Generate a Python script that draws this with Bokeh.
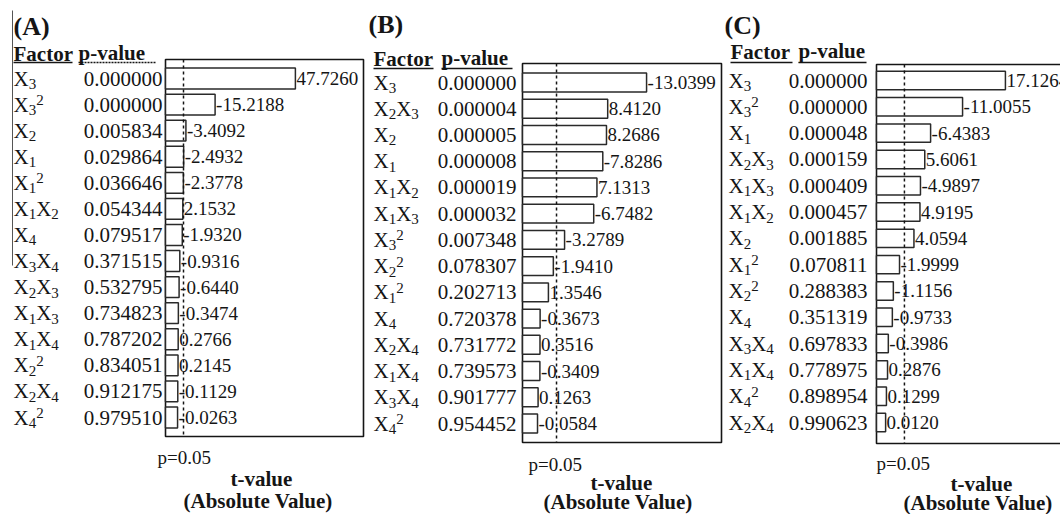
from bokeh.plotting import figure
from bokeh.models import ColumnDataSource, Range1d, Label, Arrow
from bokeh.core.properties import value
from bokeh.embed import file_html
from bokeh.resources import INLINE

# ---------------- data ----------------
panel_titles = ["(A)", "(B)", "(C)"]

factors_a = ["X₃", "X₃²", "X₂", "X₁", "X₁²", "X₁X₂", "X₄", "X₃X₄", "X₂X₃", "X₁X₃",
             "X₁X₄", "X₂²", "X₂X₄", "X₄²"]
pvalues_a = ["0.000000", "0.000000", "0.005834", "0.029864", "0.036646", "0.054344",
             "0.079517", "0.371515", "0.532795", "0.734823", "0.787202", "0.834051",
             "0.912175", "0.979510"]
tvalues_a = [47.7260, -15.2188, -3.4092, -2.4932, -2.3778, 2.1532, -1.9320, -0.9316,
             -0.6440, -0.3474, 0.2766, 0.2145, -0.1129, -0.0263]

factors_b = ["X₃", "X₂X₃", "X₂", "X₁", "X₁X₂", "X₁X₃", "X₃²", "X₂²", "X₁²", "X₄",
             "X₂X₄", "X₁X₄", "X₃X₄", "X₄²"]
pvalues_b = ["0.000000", "0.000004", "0.000005", "0.000008", "0.000019", "0.000032",
             "0.007348", "0.078307", "0.202713", "0.720378", "0.731772", "0.739573",
             "0.901777", "0.954452"]
tvalues_b = [-13.0399, 8.4120, 8.2686, -7.8286, 7.1313, -6.7482, -3.2789, -1.9410,
             1.3546, -0.3673, 0.3516, -0.3409, 0.1263, -0.0584]

factors_c = ["X₃", "X₃²", "X₁", "X₂X₃", "X₁X₃", "X₁X₂", "X₂", "X₁²", "X₂²", "X₄",
             "X₃X₄", "X₁X₄", "X₄²", "X₂X₄"]
pvalues_c = ["0.000000", "0.000000", "0.000048", "0.000159", "0.000409", "0.000457",
             "0.001885", "0.070811", "0.288383", "0.351319", "0.697833", "0.778975",
             "0.898954", "0.990623"]
tvalues_c = [17.1264, -11.0055, -6.4383, 5.6061, -4.9897, 4.9195, 4.0594, -1.9999,
             -1.1156, -0.9733, -0.3986, 0.2876, 0.1299, 0.0120]

# position of the p = 0.05 reference line (|t|) as drawn in each panel
tcrit = [2.43, 2.32, 2.70]

# ---------------- style / layout ----------------
SERIF = "Liberation Serif"
INK = "#151515"
W, H = 1060, 514
MAIN_PX, SMALL_PX = 21, 15

# fl/fr/ft/fb: panel box edges in canvas pixels; row0/rowN: first/last row centres
specs = [
    dict(fl=165, fr=363, ft=59, fb=436, row0=78, rowN=417, x_start=-4.86, ppu=2.47,
         bar_h=0.80, title=(13, 35), factor=(13, 60), pval=(78, 59), ul_y=62,
         ul_factor=(13, 72), ul_pval=(78, 156), ul_dash="2 1",
         lab_x=-152, p_x=-3, p005=(157, 463), tv=(230, 485), absv=(183, 507)),
    dict(fl=522, fr=721, ft=63, fb=442, row0=82, rowN=423, x_start=-1.73, ppu=8.4,
         bar_h=0.72, title=(368, 33), factor=(373, 65), pval=(441, 64), ul_y=68,
         ul_factor=(373, 433), ul_pval=(441, 512), ul_dash="solid",
         lab_x=-149, p_x=-6, p005=(528, 470), tv=(590, 489), absv=(543, 508)),
    dict(fl=876, fr=1080, ft=64, fb=443, row0=80, rowN=422, x_start=-1.29, ppu=7.0,
         bar_h=0.70, title=(724, 34), factor=(730, 58), pval=(798, 57), ul_y=62,
         ul_factor=(730, 792), ul_pval=(798, 866), ul_dash="solid",
         lab_x=-148, p_x=-9, p005=(876, 469), tv=(950, 490), absv=(903, 509)),
]

panels_data = [
    (factors_a, pvalues_a, tvalues_a),
    (factors_b, pvalues_b, tvalues_b),
    (factors_c, pvalues_c, tvalues_c),
]

SUB = {"₁": "1", "₂": "2", "₃": "3", "₄": "4"}


def ranges_for(s, n):
    # x: the panel's t-scale, laid over the whole canvas
    rs = s["x_start"] - s["fl"] / s["ppu"]
    xr = Range1d(rs, rs + W / s["ppu"])
    spacing = (s["rowN"] - s["row0"]) / (n - 1)
    yr = Range1d((H - s["row0"]) / spacing, -s["row0"] / spacing)
    return xr, yr, spacing


def factor_pieces(factors, x0, lab_x):
    """Split 'X₁X₂²'-style names into X / subscript / superscript pieces."""
    d = dict(x=[], y=[], text=[], size=[], xo=[], yo=[])
    for r, f in enumerate(factors):
        xo = lab_x
        for ch in f:
            if ch == "X":
                t, sz, yo, adv = "X", MAIN_PX, 0.0, 0.722 * MAIN_PX
            elif ch in SUB:
                t, sz, yo, adv = SUB[ch], SMALL_PX, 5.5, 0.5 * SMALL_PX
            elif ch == "²":
                t, sz, yo, adv = "2", SMALL_PX, -4.5, 0.5 * SMALL_PX
            else:
                t, sz, yo, adv = ch, MAIN_PX, 0.0, 0.5 * MAIN_PX
            d["x"].append(x0)
            d["y"].append(r)
            d["text"].append(t)
            d["size"].append("%dpx" % sz)
            d["xo"].append(xo)
            d["yo"].append(yo)
            xo += adv
    return ColumnDataSource(d)


xr0, yr0, _ = ranges_for(specs[0], len(factors_a))
p = figure(width=W, height=H, x_range=xr0, y_range=yr0,
           x_axis_location=None, y_axis_location=None,
           output_backend="svg", toolbar_location=None, min_border=0)
p.xgrid.visible = False
p.ygrid.visible = False
p.outline_line_color = None
p.background_fill_color = "white"
p.border_fill_color = "white"


def lab(xy, text, size, bold=False):
    # Label places the alphabetic baseline ~1/3 em low; compensate
    p.add_layout(Label(x=xy[0], y=xy[1] - round(0.34 * size), x_units="canvas",
                       y_units="canvas", text=text,
                       text_font=SERIF, text_font_size="%dpx" % size,
                       text_font_style="bold" if bold else "normal",
                       text_baseline="alphabetic", text_align="left", text_color=INK))


def hline(x0, x1, y, dash="solid", color=INK, width=1.5):
    p.add_layout(Arrow(x_start=x0, y_start=y, x_end=x1, y_end=y,
                       start_units="canvas", end_units="canvas", end=None,
                       line_color=color, line_width=width, line_dash=dash))


for i, s in enumerate(specs):
    factors, pvals, tvals = panels_data[i]
    n = len(factors)
    xr, yr, spacing = ranges_for(s, n)
    if i == 0:
        kw = {}
    else:
        p.extra_x_ranges["x%d" % i] = xr
        p.extra_y_ranges["y%d" % i] = yr
        kw = dict(x_range_name="x%d" % i, y_range_name="y%d" % i)

    x_end = s["x_start"] + (s["fr"] - s["fl"]) / s["ppu"]
    y_top = (s["ft"] - s["row0"]) / spacing
    y_bot = (s["fb"] - s["row0"]) / spacing

    src = ColumnDataSource(dict(
        y=list(range(n)),
        pval=pvals,
        absT=[abs(t) for t in tvals],
        tlabel=["%.4f" % t for t in tvals],
    ))

    # panel box
    p.quad(left=[s["x_start"]], right=[x_end], top=[y_top], bottom=[y_bot],
           fill_color=None, line_color=INK, line_width=1.6, **kw)

    # bars
    p.hbar(y="y", left=s["x_start"], right="absT", height=s["bar_h"], source=src,
           fill_color="white", line_color="#2a2a2a", line_width=1.5, **kw)
    # t-value labels
    p.text(x="absT", y="y", text="tlabel", source=src, x_offset=1,
           text_font=value(SERIF), text_font_size="19px", text_baseline="middle",
           text_align="left", text_color=INK, **kw)
    # p = 0.05 line
    p.segment(x0=[tcrit[i]], y0=[y_top], x1=[tcrit[i]], y1=[y_bot], line_color=INK,
              line_width=1.5, line_dash="3 3", **kw)
    # factor names (with sub/superscripts) and p-values
    fsrc = factor_pieces(factors, s["x_start"], s["lab_x"])
    p.text(x="x", y="y", text="text", source=fsrc, x_offset="xo", y_offset="yo",
           text_font=value(SERIF), text_font_size="size", text_baseline="middle",
           text_align="left", text_color=INK, **kw)
    p.text(x=s["x_start"], y="y", text="pval", source=src, x_offset=s["p_x"],
           text_font=value(SERIF), text_font_size="%dpx" % MAIN_PX, text_baseline="middle",
           text_align="right", text_color=INK, **kw)

    lab(s["title"], panel_titles[i], 26, True)
    lab(s["factor"], "Factor", 21, True)
    lab(s["pval"], "p-value", 21, True)
    lab(s["p005"], "p=0.05", 19)
    lab(s["tv"], "t-value", 21, True)
    lab(s["absv"], "(Absolute Value)", 21, True)
    hline(s["ul_factor"][0], s["ul_factor"][1], s["ul_y"])
    hline(s["ul_pval"][0], s["ul_pval"][1], s["ul_y"], dash=s["ul_dash"])

# thin vertical rule at the far left of panel A
p.add_layout(Arrow(x_start=12, y_start=10, x_end=12, y_end=265,
                   start_units="canvas", end_units="canvas", end=None,
                   line_color="#555555", line_width=1))

open("out.html", "w").write(file_html(p, INLINE))
